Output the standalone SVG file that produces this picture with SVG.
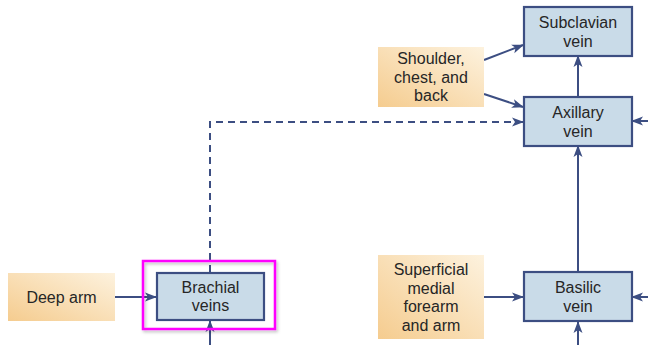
<svg xmlns="http://www.w3.org/2000/svg" width="648" height="345" viewBox="0 0 648 345">
<defs>
<linearGradient id="tan" x1="0" y1="1" x2="1" y2="0">
<stop offset="0" stop-color="#f5cc8f"/>
<stop offset="1" stop-color="#fdf2de"/>
</linearGradient>
<marker id="ah" viewBox="0 0 12 10" refX="11" refY="5" markerWidth="12" markerHeight="10" markerUnits="userSpaceOnUse" orient="auto">
<path d="M0,0.5 L12,5 L0,9.5 L3,5 Z" fill="#3c4e82"/>
</marker>
<filter id="sh" x="-10%" y="-10%" width="125%" height="130%">
<feDropShadow dx="1.5" dy="2" stdDeviation="1.5" flood-color="#000" flood-opacity="0.25"/>
</filter>
</defs>
<style>
.src{fill:url(#tan);}
.vein{fill:#c9dbe8;stroke:#3c4e82;stroke-width:2.2;}
.t{font-family:"Liberation Sans",Arial,sans-serif;font-size:16px;fill:#262626;text-anchor:middle;}
.c{fill:none;stroke:#3c4e82;stroke-width:2;marker-end:url(#ah);}
.d{stroke-dasharray:7,5;}
.hl{fill:none;stroke:#ff00ff;stroke-width:2.5;}
</style>
<rect width="648" height="345" fill="#ffffff"/>

<g id="connectors">
<path class="c" d="M484,60 L523,45"/>
<path class="c" d="M484,94 L523,107"/>
<path class="c" d="M578,97 L578,56"/>
<path class="c" d="M578,272 L578,146"/>
<path class="c" d="M648,121 L632,121"/>
<path class="c" d="M648,297 L632,297"/>
<path class="c" d="M578,345 L578,322"/>
<path class="c" d="M484,297 L523,297"/>
<path class="c" d="M115,297 L156,297"/>
<path class="c d" d="M210,272 L210,122 L523,122"/>
<path class="c" d="M210,345 L210,321"/>
</g>

<g id="subclavian">
<rect class="vein" x="524" y="7" width="108" height="49"/>
<text class="t" x="578" y="28">Subclavian</text>
<text class="t" x="578" y="46.5">vein</text>
</g>

<g id="shoulder">
<rect class="src" x="378" y="47" width="106" height="60"/>
<text class="t" x="431" y="64">Shoulder,</text>
<text class="t" x="431" y="82.5">chest, and</text>
<text class="t" x="431" y="101">back</text>
</g>

<g id="axillary">
<rect class="vein" x="524" y="97" width="108" height="49"/>
<text class="t" x="578" y="118">Axillary</text>
<text class="t" x="578" y="136.5">vein</text>
</g>

<g id="deeparm">
<rect class="src" x="8" y="273" width="107" height="48"/>
<text class="t" x="61.5" y="302.5">Deep arm</text>
</g>

<g id="brachial">
<rect class="hl" x="143" y="261" width="132" height="68" filter="url(#sh)"/>
<rect class="vein" x="157" y="273" width="107" height="47"/>
<text class="t" x="210.5" y="292.5">Brachial</text>
<text class="t" x="210.5" y="311">veins</text>
</g>

<g id="superficial">
<rect class="src" x="378" y="255" width="106" height="84"/>
<text class="t" x="431" y="275">Superficial</text>
<text class="t" x="431" y="293.5">medial</text>
<text class="t" x="431" y="312">forearm</text>
<text class="t" x="431" y="330.5">and arm</text>
</g>

<g id="basilic">
<rect class="vein" x="524" y="272" width="108" height="49"/>
<text class="t" x="578" y="293">Basilic</text>
<text class="t" x="578" y="311.5">vein</text>
</g>
</svg>
